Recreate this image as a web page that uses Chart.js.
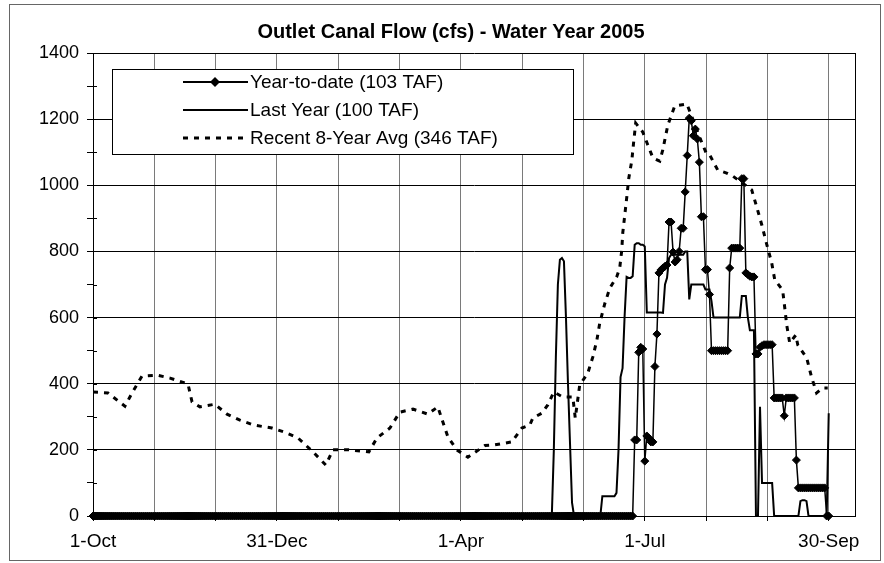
<!DOCTYPE html>
<html>
<head>
<meta charset="utf-8">
<title>Outlet Canal Flow - Water Year 2005</title>
<script src="https://cdn.jsdelivr.net/npm/chart.js@4.4.1/dist/chart.umd.min.js"></script>
<style>
html, body { margin: 0; padding: 0; background: #fff; }
#wrap { width: 884px; height: 563px; }
</style>
</head>
<body>
<div id="wrap"><canvas id="canvas" width="884" height="563"></canvas></div>
<script>
// day 0 = 1-Oct-2004, day 364 = 30-Sep-2005
const xTickDays = [0, 30.33, 60.67, 91, 121.33, 151.67, 182, 212.33, 242.67, 273, 303.33, 333.67, 364];
const xTickLabels = ["1-Oct", "", "", "31-Dec", "", "", "1-Apr", "", "", "1-Jul", "", "", "30-Sep"];
const yMax = 1400;

const titleText = "Outlet Canal Flow (cfs) - Water Year 2005";
const seriesNames = ["Year-to-date (103 TAF)", "Last Year (100 TAF)", "Recent 8-Year Avg (346 TAF)"];

// year-to-date, daily flow as [cfs, number of days]
const ytdRuns = [
    [0, 268], [230, 2], [495, 1], [510, 1], [505, 1], [166, 1], [242, 1], [236, 1], [224, 2],
    [452, 1], [550, 1], [735, 1], [744, 1], [750, 1], [755, 1], [759, 1], [889, 2], [798, 1],
    [768, 1], [775, 1], [800, 1], [870, 2], [980, 1], [1090, 1], [1203, 1], [1195, 1], [1150, 1],
    [1170, 1], [1140, 1], [1070, 1], [905, 2], [745, 2], [670, 1], [500, 9], [750, 1], [810, 5],
    [1020, 2], [735, 1], [730, 1], [725, 1], [723, 2], [490, 2], [510, 1], [515, 1], [518, 5],
    [357, 5], [303, 1], [357, 5], [169, 1], [85, 14], [0, 2]
];

// last year, daily flow as [cfs, number of days]
const lastYearRuns = [
    [0, 228], [200, 1], [480, 1], [700, 1], [775, 1], [780, 1], [770, 1], [600, 1], [400, 1],
    [220, 1], [40, 1], [0, 14], [60, 7], [70, 1], [200, 1], [420, 1], [447, 1], [602, 1], [723, 1],
    [720, 2], [725, 1], [820, 1], [825, 2], [820, 2], [815, 1], [615, 8], [614, 1], [700, 1],
    [720, 1], [780, 1], [790, 7], [800, 2], [655, 1], [700, 7], [685, 3], [650, 1], [600, 14],
    [665, 3], [600, 1], [562, 3], [0, 2], [330, 1], [100, 6], [0, 13], [45, 1], [48, 2], [45, 1],
    [0, 10], [311, 1]
];

// recent 8-year average
const avgDays = [0, 7.4, 12.4, 15.8, 19.3, 24.2, 31.7, 38.1, 47, 49, 52.9, 60.3, 66.3, 72.7, 79.6,
    88.5, 94.5, 101.4, 108.8, 115.2, 118.7, 126.6, 136.5, 140.5, 146.9, 151.8, 158.3, 165.7, 170.6,
    173.1, 175.6, 180, 185.5, 193.9, 198.8, 207.2, 212.2, 216.1, 217.6, 222.1, 225, 228, 232.4,
    237.4, 238.6, 240.8, 244.8, 247.3, 249.3, 250.7, 253.2, 255.7, 259.1, 260.6, 261.6, 262.1,
    263.1, 264.1, 265.1, 266.6, 267.5, 268.5, 272, 274.5, 277, 280.4, 281.9, 284.4, 287.8, 293.8,
    296.3, 300.3, 303.6, 305.1, 309.1, 313.5, 316.5, 325.9, 328.4, 330.9, 333.3, 335.8, 337.3,
    341.2, 342.2, 343.2, 344.7, 347.7, 348.7, 353.1, 355.5, 358, 361, 363.5];
const avgFlow = [375, 372, 348, 332, 372, 423, 426, 417, 399, 345, 330, 338, 308, 290, 275,
    266, 254, 236, 194, 154, 200, 200, 194, 236, 266, 314, 323, 308, 330,
    284, 239, 200, 178, 213, 215, 224, 266, 275, 296, 311, 336, 375, 360,
    360, 296, 396, 432, 481, 532, 583, 642, 689, 723, 750, 804, 856,
    910, 965, 1022, 1076, 1131, 1188, 1161, 1122, 1083, 1073, 1107, 1182, 1240, 1246,
    1207, 1143, 1094, 1092, 1046, 1037, 1028, 986, 934, 880, 822, 765, 714,
    683, 632, 578, 523, 547, 517, 478, 420, 372, 387, 387];

const FONT = 'Arial, "Liberation Sans", sans-serif';

function rozbal(runs) {
    var body = [];
    var den = 0;
    for (var r of runs) {
        for (var i = 0; i < r[1]; i++) {
            body.push({x: den, y: r[0]});
            den++;
        }
    }
    return body;
}

var avgPoints = avgDays.map(function (d, i) { return {x: d, y: avgFlow[i]}; });

// pozadie, nadpis, ramik okolo celeho grafu, pravy okraj plochy
var ramik = {
    id: 'ramik',
    beforeDraw: function (chart) {
        var c = chart.ctx;
        c.save();
        c.fillStyle = '#fff';
        c.fillRect(0, 0, chart.width, chart.height);
        c.restore();
    },
    afterDraw: function (chart) {
        var c = chart.ctx;
        var a = chart.chartArea;
        var y = chart.scales.y;
        c.save();
        c.strokeStyle = '#000';
        c.lineWidth = 1;
        c.beginPath();
        c.moveTo(Math.round(a.right) + 0.5, a.top);
        c.lineTo(Math.round(a.right) + 0.5, a.bottom);
        // male ciarky aj dovnutra plochy
        for (var t of y.ticks) {
            var py = Math.round(y.getPixelForValue(t.value)) + 0.5;
            c.moveTo(a.left, py);
            c.lineTo(a.left + 4, py);
        }
        c.stroke();
        c.strokeStyle = '#666';
        c.strokeRect(9.5, 4.5, 871, 556);

        c.fillStyle = '#000';
        c.font = 'bold 20px ' + FONT;
        c.textAlign = 'center';
        c.textBaseline = 'middle';
        c.fillText(titleText, 451, 32);
        c.restore();
    }
};

// legenda vo vnutri plochy
var legenda = {
    id: 'legenda',
    afterDatasetsDraw: function (chart) {
        var c = chart.ctx;
        var bx = 112, by = 69, bw = 461, bh = 85;
        c.save();
        c.fillStyle = '#fff';
        c.fillRect(bx, by, bw, bh);
        c.strokeStyle = '#000';
        c.lineWidth = 1;
        c.strokeRect(bx + 0.5, by + 0.5, bw, bh);

        var riadky = [82, 110, 138];
        for (var i = 0; i < 3; i++) {
            var y = riadky[i];
            c.beginPath();
            c.lineWidth = i === 2 ? 3 : 2;
            c.setLineDash(i === 2 ? [5, 6] : []);
            c.moveTo(183, y);
            c.lineTo(248, y);
            c.stroke();
            c.setLineDash([]);
            if (i === 0) {
                c.fillStyle = '#000';
                c.beginPath();
                c.moveTo(215, y - 5);
                c.lineTo(220, y);
                c.lineTo(215, y + 5);
                c.lineTo(210, y);
                c.closePath();
                c.fill();
            }
            c.fillStyle = '#000';
            c.font = '19px ' + FONT;
            c.textBaseline = 'middle';
            c.fillText(seriesNames[i], 250, y + 1);
        }
        c.restore();
    }
};

var chart = new Chart(document.getElementById('canvas'), {
    type: 'line',
    data: {
        datasets: [{
            label: seriesNames[0],
            data: rozbal(ytdRuns),
            borderColor: '#000',
            borderWidth: 1.5,
            pointStyle: 'rectRot',
            pointRadius: 4,
            pointBackgroundColor: '#000',
            pointBorderColor: '#000',
            pointBorderWidth: 1,
            clip: false,
            tension: 0
        }, {
            label: seriesNames[1],
            data: rozbal(lastYearRuns),
            borderColor: '#000',
            borderWidth: 2,
            pointRadius: 0,
            tension: 0
        }, {
            label: seriesNames[2],
            data: avgPoints,
            borderColor: '#000',
            borderWidth: 3,
            borderDash: [5, 6],
            pointRadius: 0,
            tension: 0
        }]
    },
    options: {
        responsive: false,
        animation: false,
        events: [],
        layout: {padding: {left: 0, right: 29, top: 53, bottom: 0}},
        plugins: {
            legend: {display: false},
            tooltip: {enabled: false},
            title: {display: false}
        },
        scales: {
            x: {
                type: 'linear',
                min: 0,
                max: 377,
                afterBuildTicks: function (scale) {
                    scale.ticks = xTickDays.map(function (d) { return {value: d}; });
                },
                afterFit: function (scale) { scale.height = 47; },
                ticks: {
                    autoSkip: false,
                    maxRotation: 0,
                    color: '#000',
                    padding: 9,
                    font: {family: FONT, size: 19},
                    callback: function (value, index) { return xTickLabels[index]; }
                },
                grid: {color: '#7a7a7a', tickColor: '#000', tickLength: 5, lineWidth: 1},
                border: {color: '#000', width: 1}
            },
            y: {
                min: 0,
                max: yMax,
                afterFit: function (scale) { scale.width = 93; },
                ticks: {
                    stepSize: 50,
                    color: '#000',
                    padding: 8,
                    font: {family: FONT, size: 18},
                    callback: function (value) { return value % 200 === 0 ? value : ''; }
                },
                grid: {
                    color: function (ctx) {
                        return ctx.tick && ctx.tick.value % 200 === 0 ? '#000' : 'rgba(0,0,0,0)';
                    },
                    tickColor: '#000',
                    tickLength: 6
                },
                border: {color: '#000', width: 1}
            }
        }
    },
    plugins: [ramik, legenda]
});
</script>
</body>
</html>
